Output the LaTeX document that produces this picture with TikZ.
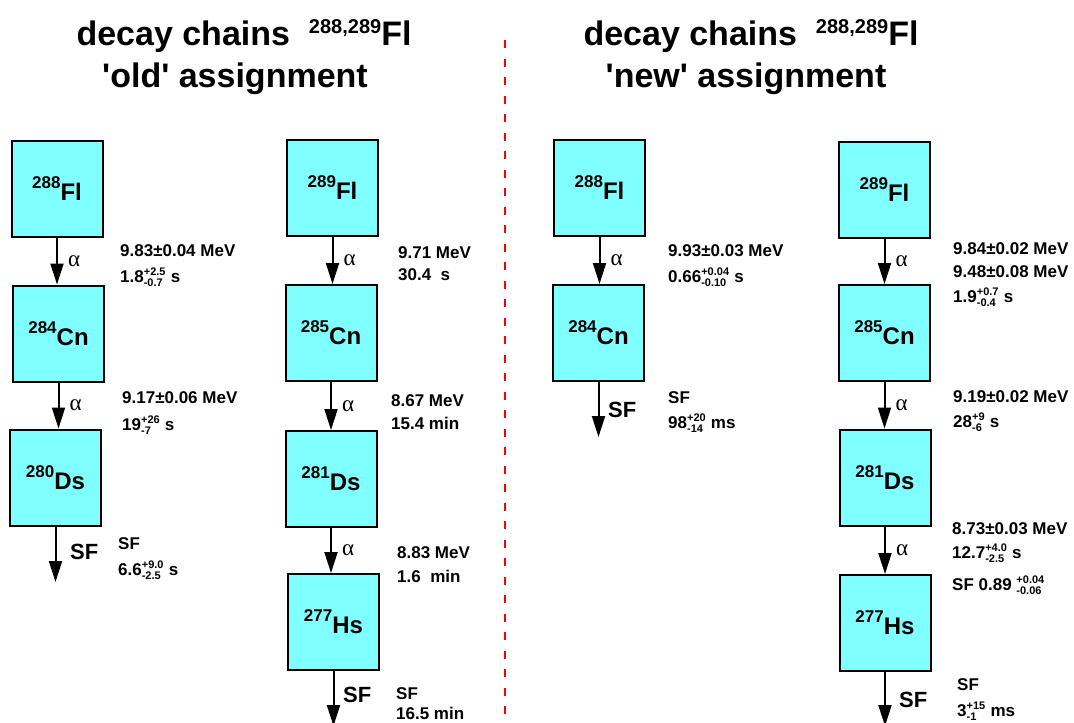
\documentclass[tikz,border=0pt]{standalone}
\usepackage{fontspec}
\setmainfont{Liberation Sans}
\newfontfamily\greekfont{Liberation Serif}
\usetikzlibrary{arrows.meta}

\definecolor{boxcyan}{RGB}{128,255,255}
\newcommand{\iso}[2]{\raisebox{12pt}{\fontsize{17}{17}\selectfont #1}#2}
\newcommand{\isottl}[2]{\raisebox{12pt}{\fontsize{20}{20}\selectfont #1}#2}
\newcommand{\updn}[2]{\ensuremath{^{\mbox{\fontsize{11}{11}\selectfont #1}}_{\mbox{\fontsize{11}{11}\selectfont #2}}}}

\tikzset{
    nucl/.style={draw, fill=boxcyan, line width=2pt, minimum width=91pt, minimum height=96pt,
        inner sep=0pt, font=\fontsize{24}{28}\selectfont\bfseries},
    decay/.style={-{Triangle[length=21pt,width=13pt]}, line width=2pt},
    info/.style={anchor=base west, inner sep=0pt, font=\fontsize{17}{20}\selectfont\bfseries},
    sflab/.style={anchor=base west, inner sep=0pt, font=\fontsize{22}{26}\selectfont\bfseries},
    alab/.style={inner sep=0pt, font=\fontsize{23}{26}\selectfont\greekfont},
    ttl/.style={anchor=base, inner sep=0pt, font=\fontsize{34}{40}\selectfont\bfseries}
}

\begin{document}
\begin{tikzpicture}[x=1pt, y=-1pt]
    \useasboundingbox (0,0) rectangle (1074,723);

    % titles
    \node[ttl] (ttlo1) at (244,45) {decay chains\ \ \isottl{288,289}{Fl}};
    \node[ttl] (ttlo2) at (235,87) {\textquotesingle old\textquotesingle\ assignment};
    \node[ttl] (ttln1) at (751,45) {decay chains\ \ \isottl{288,289}{Fl}};
    \node[ttl] (ttln2) at (746,87) {\textquotesingle new\textquotesingle\ assignment};

    % divider
    \draw[red, line width=2pt, dash pattern=on 8pt off 10.5pt] (505,40) -- (505,723);

    % 'old' chain 288Fl
    \node[nucl] (fl288o) at (57,188.5) {\iso{288}{Fl}};
    \node[nucl] (cn284o) at (58.5,333.5) {\iso{284}{Cn}};
    \node[nucl] (ds280o) at (55.5,477.5) {\iso{280}{Ds}};
    \coordinate (sf280o) at (55.5,582);
    \draw[decay] (fl288o.south) -- (fl288o.south |- cn284o.north) node[alab, midway, right=10pt] (afl288o) {α};
    \draw[decay] (cn284o.south) -- (cn284o.south |- ds280o.north) node[alab, midway, right=10pt] (acn284o) {α};
    \draw[decay] (ds280o.south) -- (sf280o);
    \node[sflab] (sfds280o) at (70,559) {SF};
    \node[info] (qfl288o) at (120,256) {9.83±0.04 MeV};
    \node[info] (tfl288o) at (120,282) {1.8\updn{+2.5}{-0.7} s};
    \node[info] (qcn284o) at (122,403) {9.17±0.06 MeV};
    \node[info] (tcn284o) at (122,430) {19\updn{+26}{-7} s};
    \node[info] (mds280o) at (118,549) {SF};
    \node[info] (tds280o) at (118,575) {6.6\updn{+9.0}{-2.5} s};

    % 'old' chain 289Fl
    \node[nucl] (fl289o) at (332.5,188) {\iso{289}{Fl}};
    \node[nucl] (cn285o) at (331,333) {\iso{285}{Cn}};
    \node[nucl] (ds281o) at (331,479) {\iso{281}{Ds}};
    \node[nucl] (hs277o) at (333.5,622) {\iso{277}{Hs}};
    \coordinate (sf277o) at (333.5,726);
    \draw[decay] (fl289o.south) -- (fl289o.south |- cn285o.north) node[alab, midway, right=10pt] (afl289o) {α};
    \draw[decay] (cn285o.south) -- (cn285o.south |- ds281o.north) node[alab, midway, right=10pt] (acn285o) {α};
    \draw[decay] (ds281o.south) -- (ds281o.south |- hs277o.north) node[alab, midway, right=10pt] (ads281o) {α};
    \draw[decay] (hs277o.south) -- (sf277o);
    \node[sflab] (sfhs277o) at (343,702) {SF};
    \node[info] (qfl289o) at (398,258) {9.71 MeV};
    \node[info] (tfl289o) at (398,280) {30.4\ \ s};
    \node[info] (qcn285o) at (391,406) {8.67 MeV};
    \node[info] (tcn285o) at (391,429) {15.4 min};
    \node[info] (qds281o) at (397,558) {8.83 MeV};
    \node[info] (tds281o) at (397,582) {1.6\ \ min};
    \node[info] (mhs277o) at (396,699) {SF};
    \node[info] (ths277o) at (396,719) {16.5 min};

    % 'new' chain 288Fl
    \node[nucl] (fl288n) at (599.5,187.5) {\iso{288}{Fl}};
    \node[nucl] (cn284n) at (598.5,333) {\iso{284}{Cn}};
    \coordinate (sf284n) at (598.5,437);
    \draw[decay] (fl288n.south) -- (fl288n.south |- cn284n.north) node[alab, midway, right=10pt] (afl288n) {α};
    \draw[decay] (cn284n.south) -- (sf284n);
    \node[sflab] (sfcn284n) at (608,417) {SF};
    \node[info] (qfl288n) at (668,256) {9.93±0.03 MeV};
    \node[info] (tfl288n) at (668,282) {0.66\updn{+0.04}{-0.10} s};
    \node[info] (mcn284n) at (668,403) {SF};
    \node[info] (tcn284n) at (668,428) {98\updn{+20}{-14} ms};

    % 'new' chain 289Fl
    \node[nucl] (fl289n) at (884.5,189.5) {\iso{289}{Fl}};
    \node[nucl] (cn285n) at (884.5,333) {\iso{285}{Cn}};
    \node[nucl] (ds281n) at (885,477.5) {\iso{281}{Ds}};
    \node[nucl] (hs277n) at (885,623) {\iso{277}{Hs}};
    \coordinate (sf277n) at (885,726);
    \draw[decay] (fl289n.south) -- (fl289n.south |- cn285n.north) node[alab, midway, right=10pt] (afl289n) {α};
    \draw[decay] (cn285n.south) -- (cn285n.south |- ds281n.north) node[alab, midway, right=10pt] (acn285n) {α};
    \draw[decay] (ds281n.south) -- (ds281n.south |- hs277n.north) node[alab, midway, right=10pt] (ads281n) {α};
    \draw[decay] (hs277n.south) -- (sf277n);
    \node[sflab] (sfhs277n) at (899,707) {SF};
    \node[info] (qfl289n1) at (953,254) {9.84±0.02 MeV};
    \node[info] (qfl289n2) at (953,277) {9.48±0.08 MeV};
    \node[info] (tfl289n) at (953,302) {1.9\updn{+0.7}{-0.4} s};
    \node[info] (qcn285n) at (953,402) {9.19±0.02 MeV};
    \node[info] (tcn285n) at (953,427) {28\updn{+9}{-6} s};
    \node[info] (qds281n) at (952,534) {8.73±0.03 MeV};
    \node[info] (tds281n) at (952,558) {12.7\updn{+4.0}{-2.5} s};
    \node[info] (bds281n) at (952,590) {SF 0.89 \updn{+0.04}{-0.06}};
    \node[info] (mhs277n) at (957,690) {SF};
    \node[info] (ths277n) at (957,716) {3\updn{+15}{-1} ms};

\end{tikzpicture}
\end{document}
